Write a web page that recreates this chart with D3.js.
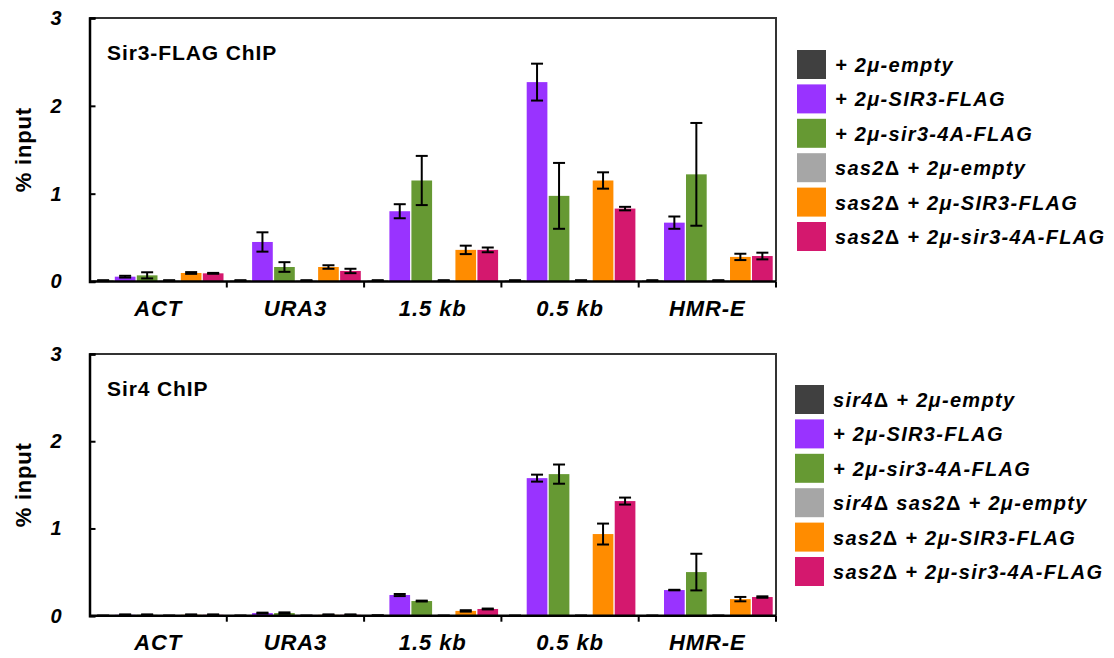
<meta charset="utf-8">
<script src="https://d3js.org/d3.v7.min.js"></script>
<style>
body { margin:0; background:white; overflow:hidden; }
text { font-family: "Liberation Sans", Arial, sans-serif; font-weight:bold; }
</style>
<body>
<div id="rootElement"></div>
<script>
// ---- data ----
var categories = ['ACT', 'URA3', '1.5 kb', '0.5 kb', 'HMR-E'];
var yTicks = [0, 1, 2, 3];
var seriesColors = ['#404040', '#9933ff', '#669933', '#a6a6a6', '#ff8c00', '#d4186e'];

// Sir3-FLAG ChIP, one array per strain, values in category order
var topEmpty      = [0.01, 0.01, 0.01, 0.01, 0.01];
var topSIR3       = [0.055, 0.45, 0.80, 2.27, 0.67];
var topSir34A     = [0.07, 0.165, 1.15, 0.975, 1.22];
var topSas2Empty  = [0.01, 0.01, 0.01, 0.01, 0.01];
var topSas2SIR3   = [0.097, 0.165, 0.36, 1.15, 0.28];
var topSas2Sir34A = [0.093, 0.12, 0.36, 0.83, 0.29];

var topEmptyErr      = [0.005, 0.005, 0.005, 0.005, 0.005];
var topSIR3Err       = [0.01, 0.11, 0.08, 0.21, 0.07];
var topSir34AErr     = [0.035, 0.055, 0.28, 0.375, 0.585];
var topSas2EmptyErr  = [0.005, 0.005, 0.005, 0.005, 0.005];
var topSas2SIR3Err   = [0.01, 0.02, 0.048, 0.093, 0.036];
var topSas2Sir34AErr = [0.005, 0.025, 0.027, 0.02, 0.038];

// Sir4 ChIP
var botEmpty      = [0, 0, 0.003, 0, 0];
var botSIR3       = [0.01, 0.03, 0.237, 1.577, 0.294];
var botSir34A     = [0.01, 0.03, 0.168, 1.623, 0.50];
var botSas2Empty  = [0, 0, 0, 0, 0];
var botSas2SIR3   = [0.01, 0.01, 0.055, 0.936, 0.19];
var botSas2Sir34A = [0.01, 0.01, 0.077, 1.314, 0.214];

var botEmptyErr      = [0, 0, 0, 0, 0];
var botSIR3Err       = [0.005, 0.005, 0.012, 0.04, 0.003];
var botSir34AErr     = [0.005, 0.008, 0.005, 0.11, 0.21];
var botSas2EmptyErr  = [0, 0, 0, 0, 0];
var botSas2SIR3Err   = [0.005, 0.005, 0.008, 0.12, 0.025];
var botSas2Sir34AErr = [0.005, 0.005, 0.005, 0.04, 0.008];

// legend labels as pieces: [text, 'i' italic | 'n' upright]
var topLegend = [
	[['+ 2μ-empty', 'i']],
	[['+ 2μ-SIR3-FLAG', 'i']],
	[['+ 2μ-sir3-4A-FLAG', 'i']],
	[['sas2', 'i'], ['Δ', 'n'], [' + 2μ-empty', 'i']],
	[['sas2', 'i'], ['Δ', 'n'], [' + 2μ-SIR3-FLAG', 'i']],
	[['sas2', 'i'], ['Δ', 'n'], [' + 2μ-sir3-4A-FLAG', 'i']]
];
var botLegend = [
	[['sir4', 'i'], ['Δ', 'n'], [' + 2μ-empty', 'i']],
	[['+ 2μ-SIR3-FLAG', 'i']],
	[['+ 2μ-sir3-4A-FLAG', 'i']],
	[['sir4', 'i'], ['Δ', 'n'], [' sas2', 'i'], ['Δ', 'n'], [' + 2μ-empty', 'i']],
	[['sas2', 'i'], ['Δ', 'n'], [' + 2μ-SIR3-FLAG', 'i']],
	[['sas2', 'i'], ['Δ', 'n'], [' + 2μ-sir3-4A-FLAG', 'i']]
];

var width = 1114, height = 658;
var svg = d3.select('#rootElement').append('svg')
	.attr('width', width).attr('height', height);

var plotLeft = 89.5, plotRight = 776;

var x0 = d3.scaleBand().domain(categories).range([plotLeft, plotRight]);
var x1 = d3.scaleBand().domain(d3.range(6)).range([0, x0.bandwidth()])
	.paddingInner(0.06).paddingOuter(0.15);

function drawPanel(top, bottom, title, means, errs, legend, legX, legY) {
	var y = d3.scaleLinear().domain([0, 3]).range([bottom, top]);
	var g = svg.append('g');

	// frame (top + right)
	g.append('path')
		.attr('d', 'M' + plotLeft + ',' + top + 'H' + plotRight + 'V' + bottom)
		.attr('fill', 'none').attr('stroke', '#333').attr('stroke-width', 2);

	// bars
	var rows = [];
	means.forEach(function(arr, s) {
		arr.forEach(function(v, c) {
			rows.push({s: s, cat: categories[c], v: v, e: errs[s][c]});
		});
	});

	g.selectAll('rect.bar').data(rows).enter().append('rect')
		.attr('class', 'bar')
		.attr('x', function(d) { return x0(d.cat) + x1(d.s); })
		.attr('y', function(d) { return y(d.v); })
		.attr('width', x1.bandwidth())
		.attr('height', function(d) { return y(0) - y(d.v); })
		.attr('fill', function(d) { return seriesColors[d.s]; });

	// error bars
	var eg = g.selectAll('g.err').data(rows).enter().append('g')
		.attr('class', 'err')
		.attr('transform', function(d) { return 'translate(' + (x0(d.cat) + x1(d.s) + x1.bandwidth() / 2) + ',0)'; })
		.attr('stroke', '#000').attr('stroke-width', 2);
	eg.append('line')
		.attr('y1', function(d) { return y(d.v + d.e); })
		.attr('y2', function(d) { return y(Math.max(0, d.v - d.e)); });
	eg.append('line').attr('x1', -6).attr('x2', 6)
		.attr('y1', function(d) { return y(d.v + d.e); })
		.attr('y2', function(d) { return y(d.v + d.e); });
	eg.append('line').attr('x1', -6).attr('x2', 6)
		.attr('y1', function(d) { return y(Math.max(0, d.v - d.e)); })
		.attr('y2', function(d) { return y(Math.max(0, d.v - d.e)); });

	// y axis
	var yAxis = g.append('g').attr('transform', 'translate(' + plotLeft + ',0)')
		.call(d3.axisLeft(y).tickValues(yTicks).tickSize(-6).tickPadding(28).tickFormat(d3.format('d')));
	yAxis.select('.domain').attr('stroke-width', 2.5);
	yAxis.selectAll('.tick line').attr('stroke-width', 2);
	yAxis.selectAll('text').attr('font-size', 20).attr('font-style', 'italic')
		.attr('font-weight', 'bold').attr('fill', '#000').attr('font-family', '"Liberation Sans", Arial, sans-serif');

	// x axis with ticks at category boundaries
	var xAxis = g.append('g').attr('transform', 'translate(0,' + y(0) + ')');
	xAxis.append('line').attr('x1', plotLeft).attr('x2', plotRight)
		.attr('stroke', '#000').attr('stroke-width', 2.5);
	xAxis.selectAll('line.tk').data(categories).enter().append('line')
		.attr('class', 'tk')
		.attr('x1', function(d) { return x0(d) + x0.bandwidth(); })
		.attr('x2', function(d) { return x0(d) + x0.bandwidth(); })
		.attr('y1', 0).attr('y2', 6)
		.attr('stroke', '#000').attr('stroke-width', 2);
	xAxis.selectAll('text').data(categories).enter().append('text')
		.attr('x', function(d) { return x0(d) + x0.bandwidth() / 2; })
		.attr('y', 34)
		.attr('text-anchor', 'middle')
		.attr('font-size', 22).attr('letter-spacing', 0.9).attr('font-style', 'italic')
		.text(function(d) { return d; });

	// y label
	g.append('text')
		.attr('transform', 'translate(31,' + ((top + bottom) / 2) + ') rotate(-90)')
		.attr('text-anchor', 'middle').attr('font-size', 22).attr('letter-spacing', 0.8)
		.text('% input');

	// title
	g.append('text').attr('x', 107).attr('y', top + 42)
		.attr('font-size', 21).attr('letter-spacing', 0.9).text(title);

	// legend
	var lg = g.selectAll('g.leg').data(legend).enter().append('g')
		.attr('class', 'leg')
		.attr('transform', function(d, i) { return 'translate(' + legX + ',' + (legY + i * 34.4) + ')'; });
	lg.append('rect').attr('width', 29).attr('height', 29)
		.attr('fill', function(d, i) { return seriesColors[i]; });
	var lt = lg.append('text').attr('x', 38).attr('y', 22)
		.attr('font-size', 20).attr('letter-spacing', 1.3);
	lt.selectAll('tspan').data(function(d) { return d; }).enter().append('tspan')
		.attr('font-style', function(p) { return p[1] === 'i' ? 'italic' : 'normal'; })
		.text(function(p) { return p[0]; });
}

drawPanel(18, 281.5, 'Sir3-FLAG ChIP',
	[topEmpty, topSIR3, topSir34A, topSas2Empty, topSas2SIR3, topSas2Sir34A],
	[topEmptyErr, topSIR3Err, topSir34AErr, topSas2EmptyErr, topSas2SIR3Err, topSas2Sir34AErr],
	topLegend, 797, 50);

drawPanel(354, 615.7, 'Sir4 ChIP',
	[botEmpty, botSIR3, botSir34A, botSas2Empty, botSas2SIR3, botSas2Sir34A],
	[botEmptyErr, botSIR3Err, botSir34AErr, botSas2EmptyErr, botSas2SIR3Err, botSas2Sir34AErr],
	botLegend, 795, 385);
</script>
</body>
